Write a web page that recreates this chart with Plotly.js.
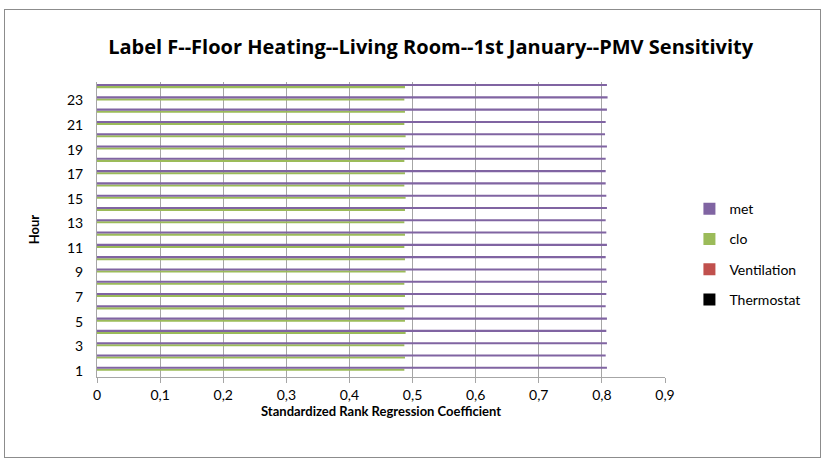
<!DOCTYPE html>
<html>
<head>
<meta charset="utf-8">
<script src="https://cdn.plot.ly/plotly-3.0.1.min.js"></script>
<style>
html,body{margin:0;padding:0;background:#fff;}
#wrap{position:relative;width:825px;height:463px;}
#chart{width:825px;height:463px;}
#frame{position:absolute;left:4px;top:9px;width:815px;height:447px;border:1px solid #8c8c8c;pointer-events:none;}
</style>
</head>
<body>
<div id="wrap"><div id="chart"></div><div id="frame"></div></div>
<script>
// Data
const hours = [1,2,3,4,5,6,7,8,9,10,11,12,13,14,15,16,17,18,19,20,21,22,23,24];
const thermostat = [0,0,0,0,0,0,0,0,0,0,0,0,0,0,0,0,0,0,0,0,0,0,0,0];
const ventilation = [0,0,0,0,0,0,0,0,0,0,0,0,0,0,0,0,0,0,0,0,0,0,0,0];
const clo = [0.487,0.488,0.487,0.489,0.488,0.487,0.488,0.487,0.489,0.488,0.487,0.488,0.487,0.488,0.489,0.487,0.488,0.487,0.488,0.489,0.487,0.488,0.487,0.488];
const met = [0.808,0.806,0.808,0.807,0.808,0.806,0.807,0.808,0.807,0.806,0.808,0.807,0.806,0.808,0.807,0.806,0.806,0.806,0.808,0.805,0.806,0.808,0.809,0.808];
const xTickVals = [0,0.1,0.2,0.3,0.4,0.5,0.6,0.7,0.8,0.9];
const xTickText = ["0","0,1","0,2","0,3","0,4","0,5","0,6","0,7","0,8","0,9"];
const yTickVals = [1,3,5,7,9,11,13,15,17,19,21,23];
const yTickText = ["1","3","5","7","9","11","13","15","17","19","21","23"];

const seriesNames = ["Thermostat","Ventilation","clo","met"];
const seriesData = [thermostat, ventilation, clo, met];
const seriesColors = ["#000000","#C0504D","#9BBB59","#8064A2"];
const legendRanks = [4,3,2,1];

const font = "Lato, 'Liberation Sans', sans-serif";
const traces = seriesNames.map((n,i)=>({
  type:'bar', orientation:'h', name:n, x:seriesData[i], y:hours,
  marker:{color:seriesColors[i], line:{width:0}}, legendgroup:n, legendrank:legendRanks[i],
  hoverinfo:'x+y+name'
}));

const layout = {
  width:825, height:463,
  margin:{l:97, r:160, t:82, b:86},
  paper_bgcolor:'#fff', plot_bgcolor:'#fff',
  barmode:'group', bargap:0.33, bargroupgap:0,
  font:{family:font, size:14, color:'#000'},
  title:{text:'<b>Label F--Floor Heating--Living Room--1st January--PMV Sensitivity</b>',
    font:{family:"'Open Sans', sans-serif", size:20, color:'#000'},
    x:0.522, xref:'container', xanchor:'center', y:0.8985, yref:'container', yanchor:'middle'},
  xaxis:{range:[0,0.9], tickvals:xTickVals, ticktext:xTickText,
    showgrid:true, gridcolor:'#a6a6a6', gridwidth:1,
    showline:true, linecolor:'#a6a6a6', linewidth:1,
    ticks:'outside', ticklen:5, tickcolor:'#a6a6a6',
    zeroline:false, fixedrange:true,
    tickfont:{family:font, size:14},
    title:{text:'<b>Standardized Rank Regression Coefficient</b>', font:{family:font, size:13}, standoff:4}},
  yaxis:{range:[0.5,24.5], tickvals:yTickVals, ticktext:yTickText,
    showgrid:false, showline:true, linecolor:'#a6a6a6', linewidth:1,
    ticks:'outside', ticklen:10, tickcolor:'rgba(0,0,0,0)', zeroline:false, fixedrange:true,
    tickfont:{family:font, size:14},
    title:{text:'<b>Hour</b>', font:{family:font, size:13}, standoff:24}},
  legend:{x:1.043, xanchor:'left', y:0.623, yanchor:'top', traceorder:'grouped',
    tracegroupgap:9, font:{family:font, size:14}, bgcolor:'rgba(0,0,0,0)'},
  showlegend:true
};
Plotly.newPlot('chart', traces, layout, {displayModeBar:false, staticPlot:true});
</script>
</body>
</html>
